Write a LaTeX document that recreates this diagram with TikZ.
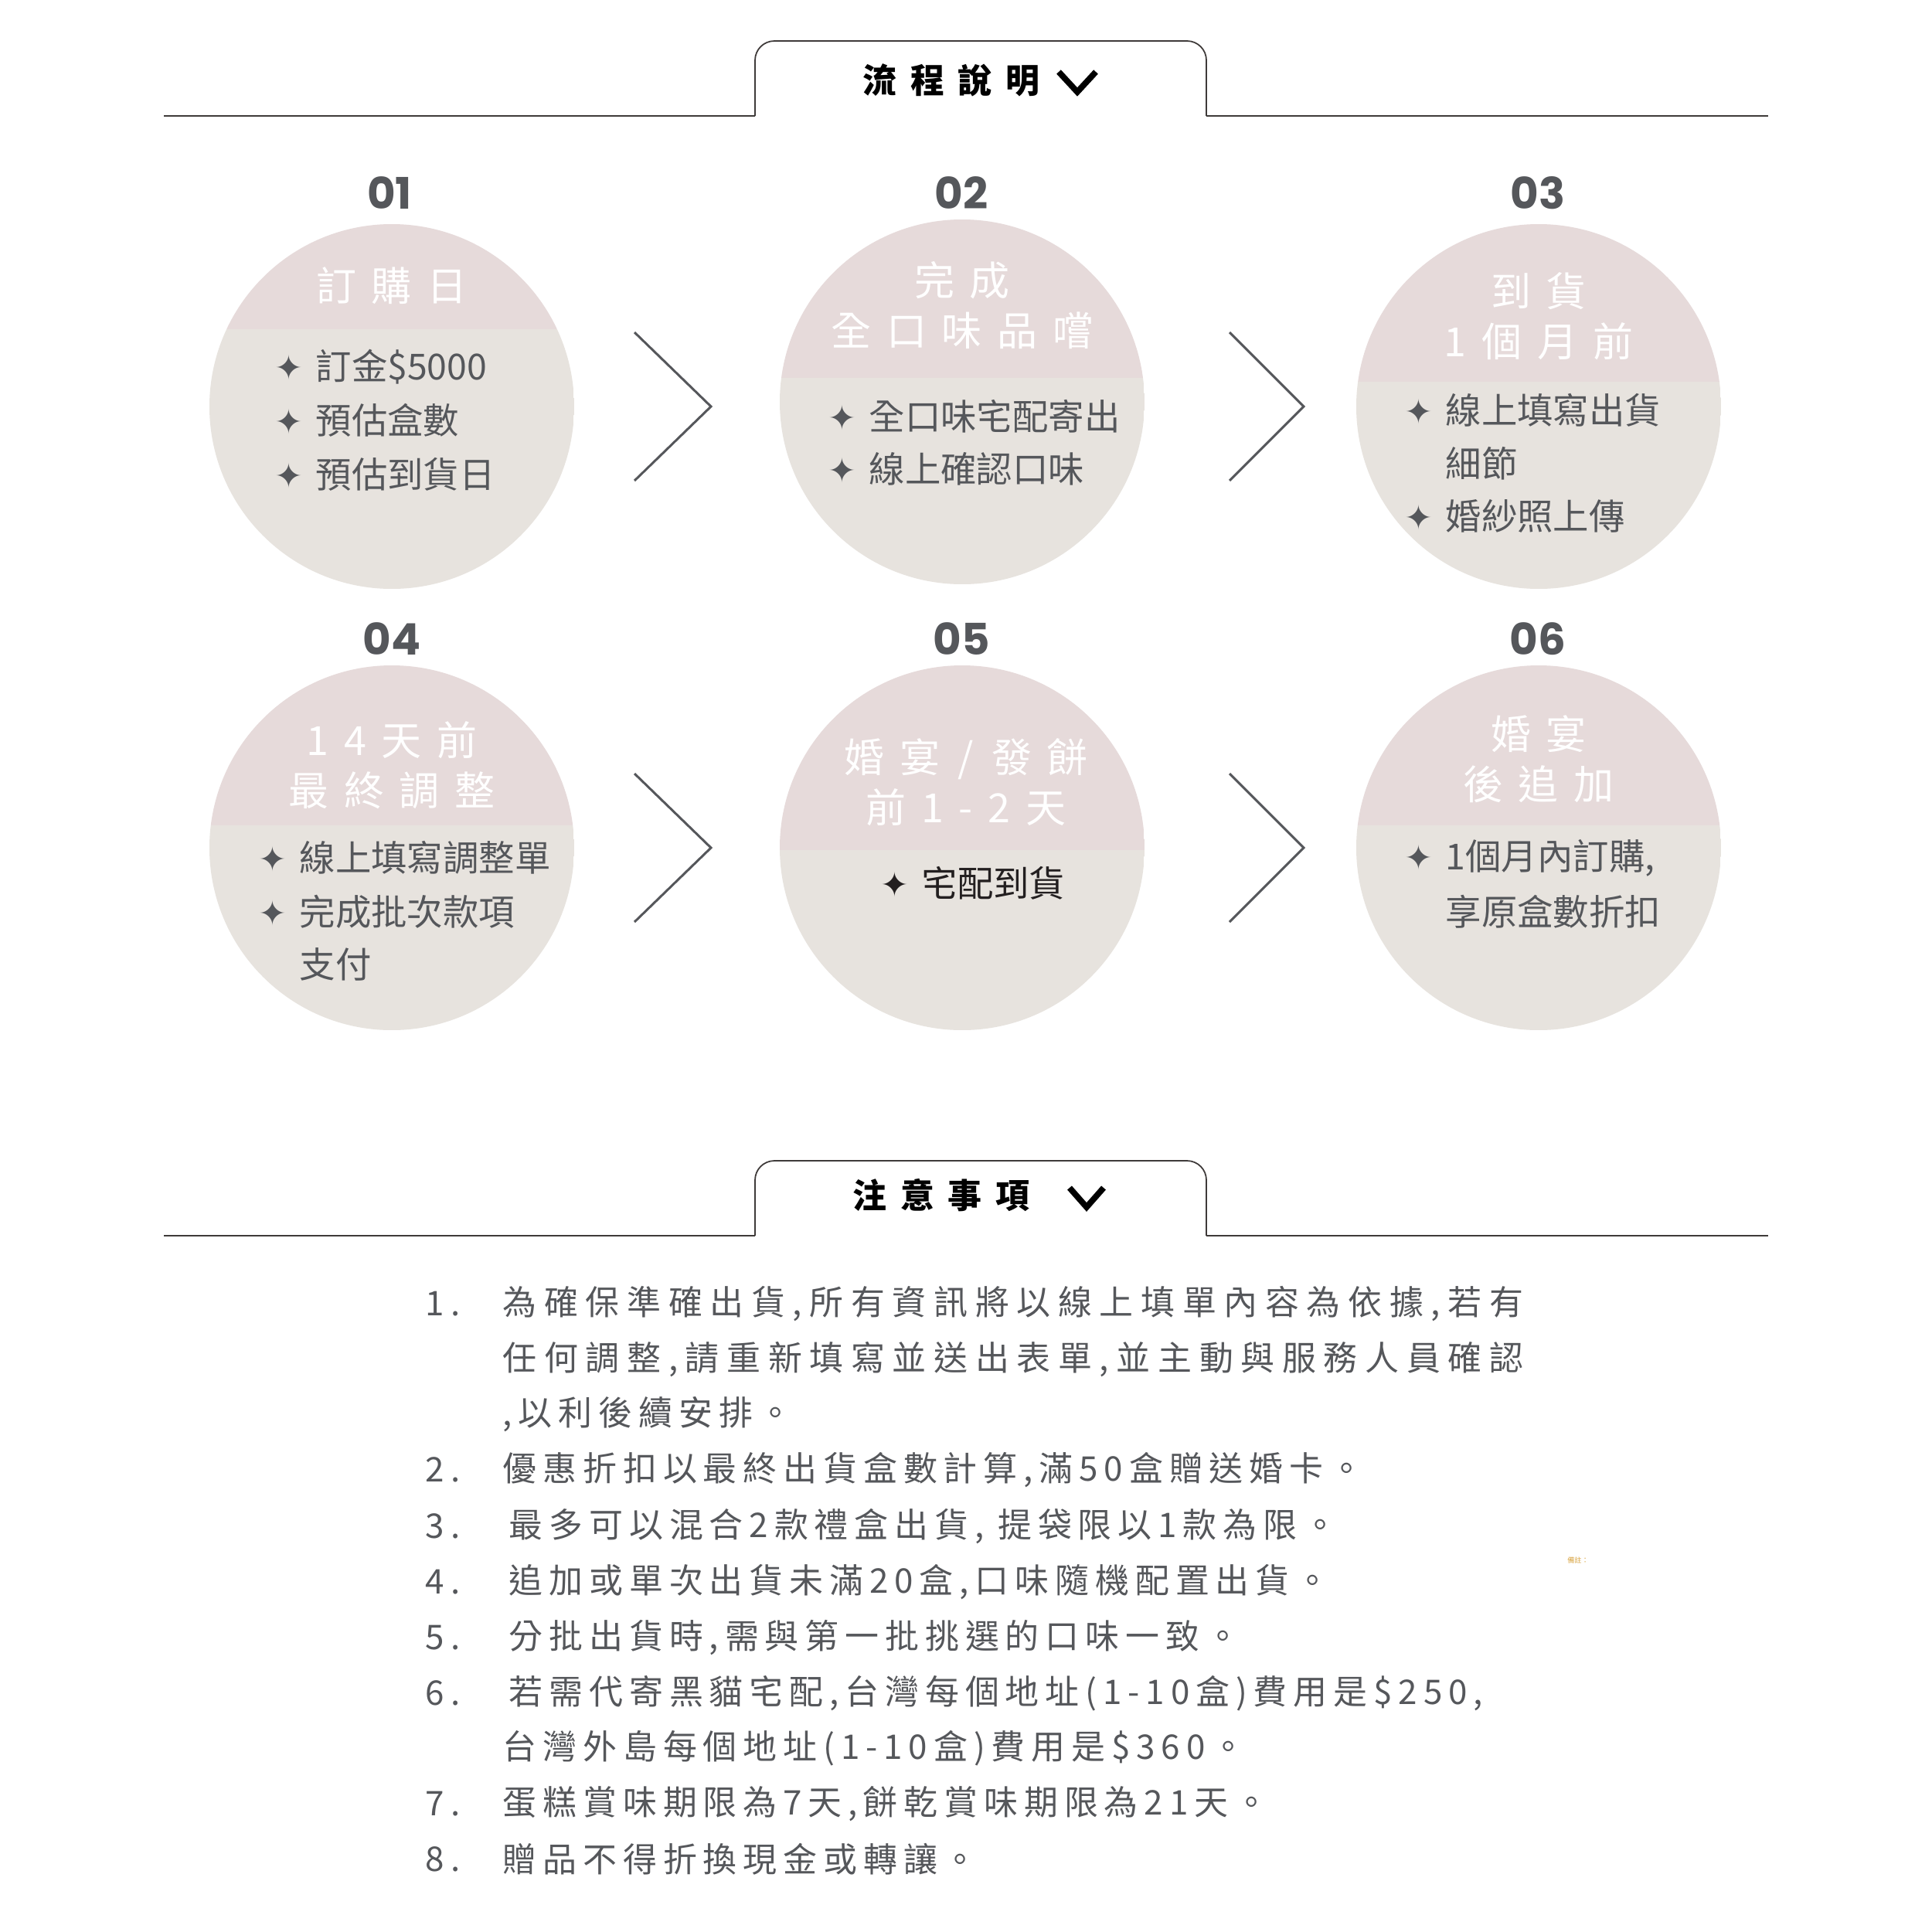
\documentclass[tikz,border=0pt]{standalone}
\usepackage{fontspec}
\setmainfont{Noto Sans CJK TC}
\newfontfamily\titlefont[LetterSpace=38]{Noto Sans CJK TC}
\newfontfamily\headfont[LetterSpace=40]{Noto Sans CJK TC}
\newfontfamily\notefont[LetterSpace=18]{Noto Sans CJK TC}
\newfontfamily\numfont{Poppins}
\newfontfamily\starfont{DejaVu Sans}
\usepackage{tikz}
\usetikzlibrary{positioning,calc}
\definecolor{bandpink}{RGB}{230,218,218}
\definecolor{bodybeige}{RGB}{231,227,222}
\definecolor{inkgray}{RGB}{85,87,91}
\definecolor{inkdark}{RGB}{35,31,32}
\definecolor{rulebrown}{RGB}{62,58,57}
\definecolor{memoorange}{RGB}{217,164,65}
\newcommand{\bul}{\makebox[0.53cm][l]{\starfont\fontsize{12.5}{12.5}\selectfont ✦}}
\tikzset{
  stepcirc/.style={circle,minimum size=4.72cm,inner sep=0pt,path picture={
      \fill[bandpink] (path picture bounding box.north west) rectangle ([yshift=#1]path picture bounding box.east);
      \fill[bodybeige] ([yshift=#1]path picture bounding box.west) rectangle (path picture bounding box.south east);}},
  stepnum/.style={font=\numfont\bfseries\fontsize{16}{16}\selectfont,text=inkgray},
  steptitle/.style={font=\titlefont\fontsize{14.8}{18.5}\selectfont,text=white,align=center},
  stepitem/.style={font=\fontsize{13.2}{13.2}\selectfont,text=inkgray,anchor=west,inner sep=0pt},
  chev/.style={draw=inkgray,line width=0.85pt},
  rule/.style={draw=rulebrown,line width=0.7pt},
  tabline/.style={draw=rulebrown,line width=0.5pt,rounded corners=0.25cm},
  headtext/.style={font=\headfont\bfseries\fontsize{12.5}{12.5}\selectfont,text=black},
  headchev/.style={draw=black,line width=2.2pt},
  notenum/.style={font=\notefont\fontsize{12.5}{12.5}\selectfont,text=inkgray,anchor=west,inner sep=0pt},
  noteitem/.style={font=\notefont\fontsize{12.5}{12.5}\selectfont,text=inkgray,anchor=west,inner sep=0pt}
}
\begin{document}
\begin{tikzpicture}
  \useasboundingbox[fill=white] (0,0) rectangle (25,-24.99);

  % header: flow
  \draw[rule] (2.12,-1.50) -- (9.77,-1.50);
  \draw[tabline] (9.77,-1.50) -- (9.77,-0.53) -- (15.61,-0.53) -- (15.61,-1.50);
  \draw[rule] (15.61,-1.50) -- (22.88,-1.50);
  \node[headtext] (flowhead) at (12.31,-1.04) {流程說明};
  \draw[headchev] (13.70,-0.93) -- (13.94,-1.19) -- (14.18,-0.93);

  % step circles
  \node[stepcirc=1.00cm] (c1) at (5.07,-5.26) {};
  \node[stepcirc=0.31cm] (c2) at (12.45,-5.20) {};
  \node[stepcirc=0.32cm] (c3) at (19.91,-5.26) {};
  \node[stepcirc=0.29cm] (c4) at (5.07,-10.97) {};
  \node[stepcirc=-0.03cm] (c5) at (12.45,-10.97) {};
  \node[stepcirc=0.29cm] (c6) at (19.91,-10.97) {};

  \node[stepnum] (n1) at (5.04,-2.50) {01};
  \node[stepnum] (n2) at (12.44,-2.50) {02};
  \node[stepnum] (n3) at (19.90,-2.50) {03};
  \node[stepnum] (n4) at (5.07,-8.27) {04};
  \node[stepnum] (n5) at (12.44,-8.27) {05};
  \node[stepnum] (n6) at (19.90,-8.27) {06};

  \node[steptitle] (t1) at (5.07,-3.70) {訂購日};
  \node[steptitle] (t2) at (12.45,-3.95) {完成\\全口味品嚐};
  \node[steptitle] (t3) at (19.91,-4.09) {到貨\\1個月前};
  \node[steptitle] (t4) at (5.07,-9.90) {14天前\\最終調整};
  \node[steptitle] (t5) at (12.50,-10.12) {婚宴\hspace{-0.08cm} / \hspace{-0.08cm}發餅\\前1-2天};
  \node[steptitle] (t6) at (19.91,-9.82) {婚宴\\後追加};

  \node[stepitem] (i1a) at (3.55,-4.75) {\bul 訂金\$5000};
  \node[stepitem] (i1b) at (3.55,-5.44) {\bul 預估盒數};
  \node[stepitem] (i1c) at (3.55,-6.14) {\bul 預估到貨日};

  \node[stepitem] (i2a) at (10.71,-5.39) {\bul 全口味宅配寄出};
  \node[stepitem] (i2b) at (10.71,-6.07) {\bul 線上確認口味};

  \node[stepitem] (i3a) at (18.17,-5.31) {\bul 線上填寫出貨};
  \node[stepitem] (i3b) at (18.70,-6.00) {細節};
  \node[stepitem] (i3c) at (18.17,-6.68) {\bul 婚紗照上傳};

  \node[stepitem] (i4a) at (3.34,-11.10) {\bul 線上填寫調整單};
  \node[stepitem] (i4b) at (3.34,-11.80) {\bul 完成批次款項};
  \node[stepitem] (i4c) at (3.87,-12.48) {支付};

  \node[stepitem,text=inkdark] (i5a) at (11.39,-11.43) {\bul 宅配到貨};

  \node[stepitem] (i6a) at (18.17,-11.10) {\bul 1個月內訂購,};
  \node[stepitem] (i6b) at (18.70,-11.80) {享原盒數折扣};

  % chevrons between steps
  \draw[chev] (8.21,-4.30) -- (9.20,-5.26) -- (8.21,-6.22);
  \draw[chev] (15.91,-4.30) -- (16.87,-5.26) -- (15.91,-6.22);
  \draw[chev] (8.21,-10.01) -- (9.20,-10.97) -- (8.21,-11.93);
  \draw[chev] (15.91,-10.01) -- (16.87,-10.97) -- (15.91,-11.93);

  % header: notes
  \draw[rule] (2.12,-15.99) -- (9.77,-15.99);
  \draw[tabline] (9.77,-15.99) -- (9.77,-15.02) -- (15.61,-15.02) -- (15.61,-15.99);
  \draw[rule] (15.61,-15.99) -- (22.88,-15.99);
  \node[headtext] (notehead) at (12.18,-15.47) {注意事項};
  \draw[headchev] (13.84,-15.37) -- (14.06,-15.62) -- (14.28,-15.37);

  % notes list
  \node[notenum] (k1) at (5.50,-16.87) {1.};
  \node[noteitem] (m1a) at (6.50,-16.87) {\addfontfeatures{LetterSpace=22}為確保準確出貨,所有資訊將以線上填單內容為依據,若有};
  \node[noteitem] (m1b) at (6.50,-17.59) {\addfontfeatures{LetterSpace=22}任何調整,請重新填寫並送出表單,並主動與服務人員確認};
  \node[noteitem] (m1c) at (6.50,-18.30) {,以利後續安排。};
  \node[notenum] (k2) at (5.50,-19.02) {2.};
  \node[noteitem] (m2) at (6.50,-19.02) {優惠折扣以最終出貨盒數計算,滿50盒贈送婚卡。};
  \node[notenum] (k3) at (5.50,-19.75) {3.};
  \node[noteitem] (m3) at (6.58,-19.75) {最多可以混合2款禮盒出貨, 提袋限以1款為限。};
  \node[notenum] (k4) at (5.50,-20.47) {4.};
  \node[noteitem] (m4) at (6.58,-20.47) {追加或單次出貨未滿20盒,口味隨機配置出貨。};
  \node[notenum] (k5) at (5.50,-21.19) {5.};
  \node[noteitem] (m5) at (6.58,-21.19) {分批出貨時,需與第一批挑選的口味一致。};
  \node[notenum] (k6) at (5.50,-21.91) {6.};
  \node[noteitem] (m6a) at (6.58,-21.91) {若需代寄黑貓宅配,台灣每個地址(1-10盒)費用是\$250,};
  \node[noteitem] (m6b) at (6.50,-22.62) {台灣外島每個地址(1-10盒)費用是\$360。};
  \node[notenum] (k7) at (5.50,-23.34) {7.};
  \node[noteitem] (m7) at (6.50,-23.34) {蛋糕賞味期限為7天,餅乾賞味期限為21天。};
  \node[notenum] (k8) at (5.50,-24.06) {8.};
  \node[noteitem] (m8) at (6.50,-24.06) {贈品不得折換現金或轉讓。};

  \node[font=\fontsize{2.6}{2.6}\selectfont,text=memoorange,inner sep=0pt] (memo) at (20.42,-20.19) {備註：};
\end{tikzpicture}
\end{document}
